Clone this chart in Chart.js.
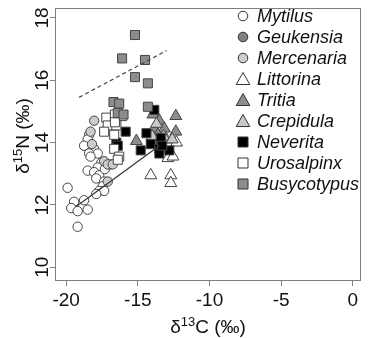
<!DOCTYPE html>
<html>
<head>
<meta charset="utf-8">
<script src="https://cdn.jsdelivr.net/npm/chart.js@4"></script>
<style>
  html, body { margin: 0; padding: 0; background: #fff; }
  #wrap { width: 369px; height: 338px; }
</style>
</head>
<body>
<div id="wrap"><canvas id="chart"></canvas></div>
<script>
// axis ticks
const xTicks = [-20, -15, -10, -5, 0];
const yTicks = [10, 12, 14, 16, 18];

// [d13C, d15N] per species
const mytilus = [[-18.4,14.25],[-18.5,14.1],[-18.5,13.85],[-18.05,13.8],[-17.8,13.65],[-18.4,13.65],
  [-18.3,13.55],[-17.55,13.35],[-17.8,13.2],[-18.5,13.1],[-18.05,13.05],[-17.7,12.95],[-17.9,12.85],
  [-17.35,12.75],[-17.45,12.6],[-17.7,12.45],[-17.35,12.45],[-17.9,12.35],[-19.9,12.55],[-18.75,12.15],
  [-19.45,12.1],[-19.65,11.9],[-19.2,11.8],[-18.5,11.85],[-19.2,11.3],[-18.75,13.9],[-17.3,13.15],[-16.9,13.3]];
const geukensia = [];
const mercenaria = [[-18.05,14.7],[-18.2,13.95],[-17.35,13.4],[-17.1,13.3],[-17.1,12.75],[-18.3,14.35],[-16.75,13.3]];
const littorina = [[-14.1,12.95],[-12.7,12.95],[-12.7,12.7],[-12.9,13.5],[-12.55,13.55],[-12.3,14.0],[-13.0,14.1]];
const tritia = [[-15.1,14.05],[-13.95,14.9],[-13.5,14.7],[-12.35,14.85],[-13.85,14.45],[-13.15,14.45],[-12.35,14.35],[-13.6,14.25]];
const crepidula = [[-13.7,14.6],[-13.2,14.2],[-12.6,14.1],[-14.0,14.2]];
const neverita = [[-15.85,14.35],[-16.5,14.0],[-16.4,13.9],[-14.8,13.75],[-14.4,14.3],[-14.1,13.95],[-13.85,15.05],
  [-13.4,14.0],[-13.4,14.15],[-13.5,13.8],[-13.5,13.65],[-12.8,13.75],[-13.3,13.9]];
const urosalpinx = [[-17.2,14.8],[-17.1,14.55],[-17.35,14.35],[-16.5,14.55],[-16.65,14.25],[-16.65,13.8],
  [-16.3,13.55],[-16.4,13.45],[-16.6,14.9],[-16.1,14.85],[-16.6,14.65]];
const busycotypus = [[-16.7,15.3],[-16.3,15.25],[-16.4,14.95],[-16.0,14.9],[-14.3,15.15],[-15.2,17.45],
  [-16.1,16.7],[-14.5,16.65],[-15.2,16.1],[-14.3,15.9]];

// regression lines (end points)
const dashedLine = [[-19.1,15.45],[-13.0,16.95]];
const solidLine = [[-19.3,11.95],[-13.5,13.9]];

const toXY = arr => arr.map(p => ({x: p[0], y: p[1]}));

const species = [
  ['Mytilus', mytilus, 'circle', '#ffffff'],
  ['Geukensia', geukensia, 'circle', '#808080'],
  ['Mercenaria', mercenaria, 'circle', '#cccccc'],
  ['Littorina', littorina, 'triangle', '#ffffff'],
  ['Tritia', tritia, 'triangle', '#8c8c8c'],
  ['Crepidula', crepidula, 'triangle', '#c8c8c8'],
  ['Neverita', neverita, 'rect', '#000000'],
  ['Urosalpinx', urosalpinx, 'rect', '#ffffff'],
  ['Busycotypus', busycotypus, 'rect', '#8c8c8c']
];
const radius = {circle: 4.7, triangle: 6.9, rect: 6.4};

const datasets = species.map((s, i) => ({
  type: 'scatter',
  label: s[0],
  data: toXY(s[1]),
  pointStyle: s[2],
  pointRadius: radius[s[2]],
  pointBackgroundColor: s[3],
  pointBorderColor: '#444',
  pointBorderWidth: 1,
  order: 20 - i
}));
datasets.push({type: 'line', label: 'dash', data: toXY(dashedLine), borderColor: '#444', borderWidth: 1.2,
  borderDash: [4, 3], pointRadius: 0, order: 0});
datasets.push({type: 'line', label: 'solid', data: toXY(solidLine), borderColor: '#333', borderWidth: 1.2,
  pointRadius: 0, order: 0});

function mark(ctx, style, x, y, r) {
  ctx.beginPath();
  if (style === 'circle') ctx.arc(x, y, r, 0, Math.PI * 2);
  else if (style === 'rect') ctx.rect(x - r, y - r, 2 * r, 2 * r);
  else { ctx.moveTo(x, y - r); ctx.lineTo(x + r * 1.05, y + r * 0.85); ctx.lineTo(x - r * 1.05, y + r * 0.85); ctx.closePath(); }
  ctx.fill(); ctx.stroke();
}

const extras = {
  id: 'extras',
  afterDraw(chart) {
    const {ctx, chartArea: a} = chart;
    ctx.save();
    // box
    ctx.strokeStyle = '#7f7f7f';
    ctx.lineWidth = 1;
    ctx.strokeRect(Math.round(a.left) + 0.5, Math.round(a.top) + 0.5,
      Math.round(a.right - a.left) - 1, Math.round(a.bottom - a.top) - 1);

    // legend
    const lr = {circle: 4.8, triangle: 6.5, rect: 5};
    species.forEach((s, i) => {
      const y = 16 + i * 21;
      ctx.fillStyle = s[3];
      ctx.strokeStyle = '#333';
      ctx.lineWidth = 1;
      mark(ctx, s[2], 243, y, lr[s[2]]);
      ctx.fillStyle = '#111';
      ctx.font = 'italic 18px "Liberation Sans", Arial, sans-serif';
      ctx.textBaseline = 'middle';
      ctx.textAlign = 'left';
      ctx.fillText(s[0], 257, y + 1);
    });

    // axis titles with superscripts
    const big = '19px "Liberation Sans", Arial, sans-serif';
    const small = '13px "Liberation Sans", Arial, sans-serif';
    function title(parts, cx, cy, rot) {
      ctx.save();
      ctx.translate(cx, cy);
      ctx.rotate(rot);
      ctx.textBaseline = 'alphabetic';
      ctx.textAlign = 'left';
      let w = 0;
      parts.forEach(p => { ctx.font = p[1] ? small : big; w += ctx.measureText(p[0]).width; });
      let x = -w / 2;
      ctx.fillStyle = '#111';
      parts.forEach(p => {
        ctx.font = p[1] ? small : big;
        ctx.fillText(p[0], x, p[1] ? -7 : 0);
        x += ctx.measureText(p[0]).width;
      });
      ctx.restore();
    }
    title([['δ', 0], ['13', 1], ['C (‰)', 0]], (a.left + a.right) / 2, 333, 0);
    title([['δ', 0], ['15', 1], ['N (‰)', 0]], 29, 136, -Math.PI / 2);
    ctx.restore();
  }
};

new Chart(document.getElementById('chart'), {
  type: 'scatter',
  data: {datasets},
  plugins: [extras],
  options: {
    responsive: true,
    maintainAspectRatio: false,
    animation: false,
    layout: {padding: {top: 5, right: 8, left: 0, bottom: 0}},
    plugins: {legend: {display: false}, tooltip: {enabled: false}},
    scales: {
      x: {
        type: 'linear',
        min: -20.78,
        max: 0.57,
        afterBuildTicks: s => { s.ticks = xTicks.map(v => ({value: v})); },
        afterFit: s => { s.height = 57; s.paddingLeft = 0; s.paddingRight = 0; },
        grid: {display: true, drawOnChartArea: false, drawTicks: true, tickLength: 5, color: '#7f7f7f'},
        border: {display: false},
        ticks: {color: '#111', padding: 3, font: {size: 19, family: '"Liberation Sans", Arial, sans-serif'},
          maxRotation: 0, minRotation: 0}
      },
      y: {
        type: 'linear',
        min: 9.56,
        max: 18.32,
        afterBuildTicks: s => { s.ticks = yTicks.map(v => ({value: v})); },
        afterFit: s => { s.width = 55; s.paddingTop = 0; s.paddingBottom = 0; },
        grid: {display: true, drawOnChartArea: false, drawTicks: true, tickLength: 5, color: '#7f7f7f'},
        border: {display: false},
        ticks: {color: '#111', padding: -3, crossAlign: 'center', minRotation: 90, maxRotation: 90,
          font: {size: 19, family: '"Liberation Sans", Arial, sans-serif'}}
      }
    }
  }
});
</script>
</body>
</html>
